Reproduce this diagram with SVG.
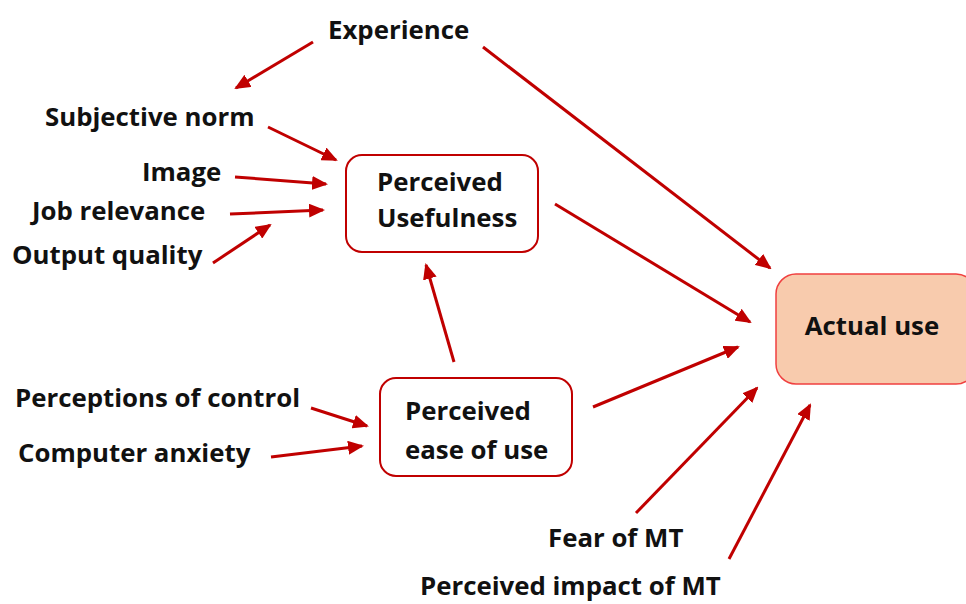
<svg xmlns="http://www.w3.org/2000/svg" width="966" height="604" viewBox="0 0 966 604">
<style>
.t{font-family:"Open Sans","Liberation Sans",sans-serif;font-weight:bold;font-size:25.8px;fill:#111;}
.box{fill:#fff;stroke:#C00000;stroke-width:2;}
.au{fill:#F8CBAD;stroke:#F04040;stroke-width:1.5;}
.c{stroke:#C00000;stroke-width:3;fill:none;marker-end:url(#ah);}
</style>
<defs>
<marker id="ah" markerUnits="userSpaceOnUse" markerWidth="16" markerHeight="14" refX="14" refY="7" orient="auto">
<path d="M0,0 L16,7 L0,14 Z" fill="#C00000"/>
</marker>
</defs>
<rect width="966" height="604" fill="#fff"/>
<g id="connectors">
<line class="c" x1="313" y1="42" x2="236" y2="88"/>
<line class="c" x1="483" y1="47" x2="770" y2="268"/>
<line class="c" x1="268" y1="127" x2="336" y2="160"/>
<line class="c" x1="235" y1="177" x2="326" y2="184"/>
<line class="c" x1="230" y1="214" x2="323" y2="210"/>
<line class="c" x1="213" y1="263" x2="270" y2="225"/>
<line class="c" x1="555" y1="204" x2="750" y2="322"/>
<line class="c" x1="454" y1="362" x2="426" y2="265"/>
<line class="c" x1="593" y1="407" x2="738" y2="347"/>
<line class="c" x1="311" y1="408" x2="367" y2="426"/>
<line class="c" x1="271" y1="457" x2="362" y2="446"/>
<line class="c" x1="636" y1="513" x2="757" y2="388"/>
<line class="c" x1="729" y1="559" x2="810" y2="405"/>
</g>
<g id="experience"><text class="t" x="328" y="39">Experience</text></g>
<g id="subjective-norm"><text class="t" x="45" y="126">Subjective norm</text></g>
<g id="image"><text class="t" x="142" y="181">Image</text></g>
<g id="job-relevance"><text class="t" x="32" y="220">Job relevance</text></g>
<g id="output-quality"><text class="t" x="12" y="264">Output quality</text></g>
<g id="perceptions-of-control"><text class="t" x="15" y="407">Perceptions of control</text></g>
<g id="computer-anxiety"><text class="t" x="18" y="462">Computer anxiety</text></g>
<g id="fear-of-mt"><text class="t" x="548" y="547">Fear of MT</text></g>
<g id="perceived-impact"><text class="t" x="420" y="595">Perceived impact of MT</text></g>
<g id="perceived-usefulness">
<rect class="box" x="346" y="155" width="192" height="97" rx="16"/>
<text class="t" x="377" y="191">Perceived</text>
<text class="t" x="377" y="227">Usefulness</text>
</g>
<g id="perceived-ease-of-use">
<rect class="box" x="380" y="378" width="192" height="98" rx="16"/>
<text class="t" x="405" y="420">Perceived</text>
<text class="t" x="405" y="459">ease of use</text>
</g>
<g id="actual-use">
<rect class="au" x="776" y="274" width="200" height="110" rx="20"/>
<text class="t" x="872" y="335" text-anchor="middle">Actual use</text>
</g>
</svg>
